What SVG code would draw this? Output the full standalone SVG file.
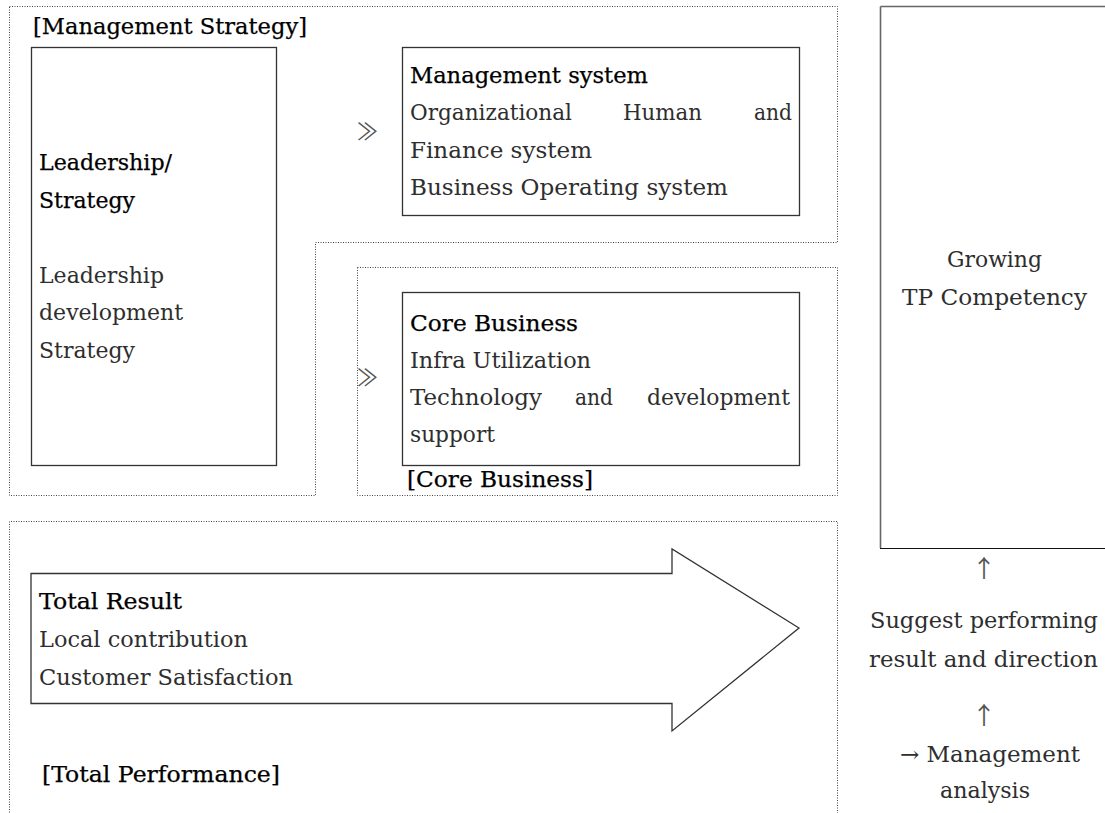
<svg xmlns="http://www.w3.org/2000/svg" width="1105" height="813" viewBox="0 0 1105 813">
  <style>
    .dot { fill: none; stroke: #444; stroke-width: 1; stroke-dasharray: 1 1.5; }
    .box { fill: #fff; stroke: #333; stroke-width: 1.3; }
    .h { font-family: "DejaVu Serif", "Liberation Serif", serif; font-size: 22px; fill: #000; stroke: #000; stroke-width: 0.25; }
    .b { font-family: "DejaVu Serif", "Liberation Serif", serif; font-size: 22px; fill: #2e2e2e; }
    .sym { font-family: "Noto Sans CJK KR", "DejaVu Sans", sans-serif; fill: #555; }
  </style>
  <rect width="1105" height="813" fill="#fff"/>

  <!-- dotted region frames -->
  <g id="regions">
    <path class="dot" d="M9.5,6.5 H837.5 V242.5 H315.5 V495.5 H9.5 Z"/>
    <rect class="dot" x="357.5" y="267.5" width="480" height="228"/>
    <path class="dot" d="M9.5,820 V521.5 H837.5 V820"/>
    <text class="h" x="33" y="34" textLength="274" lengthAdjust="spacingAndGlyphs">[Management Strategy]</text>
    <text class="h" x="407" y="487" textLength="186" lengthAdjust="spacingAndGlyphs">[Core Business]</text>
    <text class="h" x="42" y="782" textLength="238" lengthAdjust="spacingAndGlyphs">[Total Performance]</text>
  </g>

  <!-- flow markers -->
  <g id="connectors">
    <text class="sym" x="357" y="140" font-size="24" textLength="21" lengthAdjust="spacingAndGlyphs">≫</text>
    <text class="sym" x="357" y="386" font-size="24" textLength="21" lengthAdjust="spacingAndGlyphs">≫</text>
    <text class="sym" x="984" y="577" font-size="24" text-anchor="middle">↑</text>
    <text class="sym" x="984" y="724" font-size="24" text-anchor="middle">↑</text>
  </g>

  <g id="leadership">
    <rect class="box" x="31.5" y="47.5" width="245" height="418"/>
    <text class="h" x="39" y="170" textLength="133" lengthAdjust="spacingAndGlyphs">Leadership/</text>
    <text class="h" x="39" y="208" textLength="96" lengthAdjust="spacingAndGlyphs">Strategy</text>
    <text class="b" x="39" y="283" textLength="125" lengthAdjust="spacingAndGlyphs">Leadership</text>
    <text class="b" x="39" y="320" textLength="144" lengthAdjust="spacingAndGlyphs">development</text>
    <text class="b" x="39" y="358" textLength="96" lengthAdjust="spacingAndGlyphs">Strategy</text>
  </g>

  <g id="management-system">
    <rect class="box" x="402.5" y="47.5" width="397" height="168"/>
    <text class="h" x="410" y="83" textLength="238" lengthAdjust="spacingAndGlyphs">Management system</text>
    <text class="b" x="410" y="120" textLength="162" lengthAdjust="spacingAndGlyphs">Organizational</text>
    <text class="b" x="623" y="120" textLength="79" lengthAdjust="spacingAndGlyphs">Human</text>
    <text class="b" x="754" y="120" textLength="38" lengthAdjust="spacingAndGlyphs">and</text>
    <text class="b" x="410" y="158" textLength="182" lengthAdjust="spacingAndGlyphs">Finance system</text>
    <text class="b" x="410" y="195" textLength="318" lengthAdjust="spacingAndGlyphs">Business Operating system</text>
  </g>

  <g id="core-business">
    <rect class="box" x="402.5" y="292.5" width="397" height="173"/>
    <text class="h" x="410" y="331" textLength="168" lengthAdjust="spacingAndGlyphs">Core Business</text>
    <text class="b" x="410" y="368" textLength="181" lengthAdjust="spacingAndGlyphs">Infra Utilization</text>
    <text class="b" x="410" y="405" textLength="132" lengthAdjust="spacingAndGlyphs">Technology</text>
    <text class="b" x="575" y="405" textLength="38" lengthAdjust="spacingAndGlyphs">and</text>
    <text class="b" x="647" y="405" textLength="143" lengthAdjust="spacingAndGlyphs">development</text>
    <text class="b" x="410" y="442" textLength="85" lengthAdjust="spacingAndGlyphs">support</text>
  </g>

  <g id="total-result">
    <path class="box" d="M31,573.5 H672 V549 L799,628 L672,731 V703.5 H31 Z" stroke-linejoin="miter"/>
    <text class="h" x="39" y="609" textLength="143" lengthAdjust="spacingAndGlyphs">Total Result</text>
    <text class="b" x="39" y="647" textLength="209" lengthAdjust="spacingAndGlyphs">Local contribution</text>
    <text class="b" x="39" y="685" textLength="254" lengthAdjust="spacingAndGlyphs">Customer Satisfaction</text>
  </g>

  <g id="tp-competency">
    <path d="M880.5,6.5 H1110 M880.5,6.5 V548" fill="none" stroke="#666" stroke-width="1.6"/>
    <path d="M880,548.5 H1110" fill="none" stroke="#111" stroke-width="1"/>
    <text class="b" x="947" y="267" textLength="95" lengthAdjust="spacingAndGlyphs">Growing</text>
    <text class="b" x="902" y="305" textLength="185" lengthAdjust="spacingAndGlyphs">TP Competency</text>
  </g>

  <g id="analysis-note">
    <text class="b" x="870" y="628" textLength="228" lengthAdjust="spacingAndGlyphs">Suggest performing</text>
    <text class="b" x="869" y="667" textLength="229" lengthAdjust="spacingAndGlyphs">result and direction</text>
    <text class="b" x="900" y="762" textLength="180" lengthAdjust="spacingAndGlyphs">→ Management</text>
    <text class="b" x="940" y="798" textLength="90" lengthAdjust="spacingAndGlyphs">analysis</text>
  </g>
</svg>
